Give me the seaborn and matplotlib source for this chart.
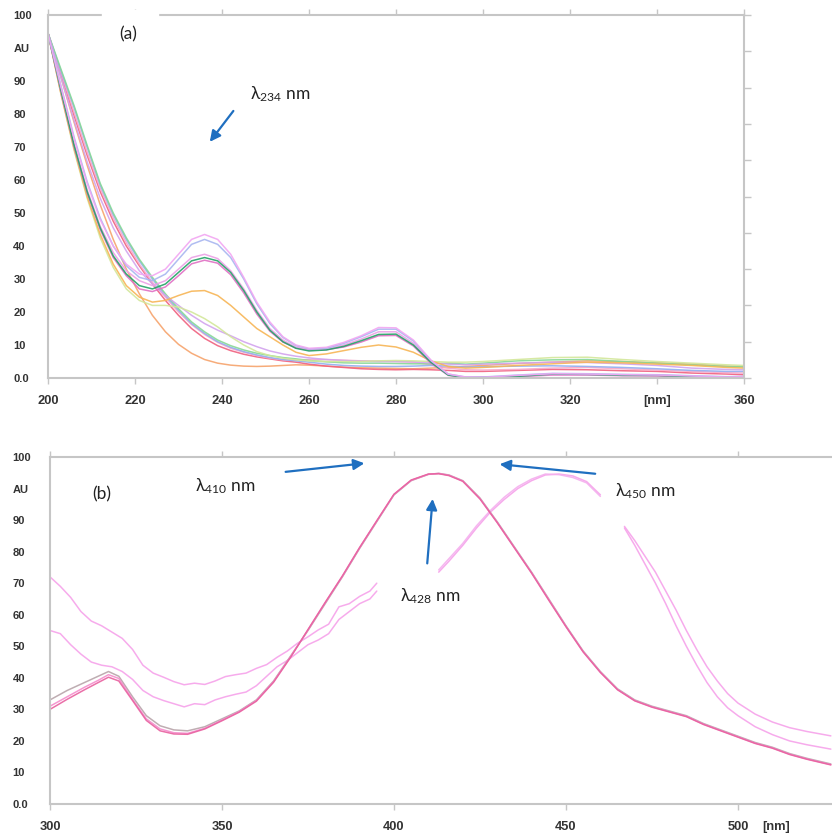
import numpy as np
import matplotlib
matplotlib.use("Agg")
import matplotlib.pyplot as plt
from matplotlib.patches import Rectangle
import seaborn as sns

# --- DATA: panel (a) ---
WL_A = [200, 203, 206, 209, 212, 215, 218, 221, 224, 227, 230, 233, 236, 239, 242, 245,
        248, 251, 254, 257, 260, 264, 268, 272, 276, 280, 284, 288, 292, 296, 300, 308,
        316, 324, 332, 340, 348, 356, 360]

# peaked spectra (band at 234 nm and 277 nm)
A_PINK_LAV = [104.5, 88, 72.5, 59, 48, 40, 34.5, 31.5, 31, 33, 37.5, 42, 43.5, 42, 37.5, 30.5,
              23, 17, 12.5, 10, 9, 9.3, 10.8, 12.8, 15.3, 15.2, 11.5, 5.5, 1.2, 0.3, 0.2, 0.8,
              1.3, 1.2, 1.0, 0.9, 0.6, 0.3, 0.4]
A_BLUE_LAV = [104.5, 88.5, 73, 59.5, 48.5, 40, 34, 30.5, 29.5, 31.5, 36, 40.5, 42, 40.5, 36.5, 30,
              22.5, 16.5, 12.3, 9.8, 8.8, 9, 10.5, 12.5, 14.8, 14.8, 11.2, 5.3, 1.2, 0.3, 0.3, 0.9,
              1.4, 1.3, 1.1, 1.0, 0.7, 0.4, 0.5]
A_LIGHT_MAG = [104.5, 87, 71, 57, 46, 38, 32.5, 29.5, 28, 29.5, 33, 36.5, 37.5, 36.2, 32.5, 27,
               20.5, 15, 11.5, 9.3, 8.5, 8.8, 10, 11.8, 14, 14, 10.5, 5, 1, 0.2, 0.2, 0.6,
               1.1, 1.0, 0.8, 0.9, 0.5, 0.2, 0.3]
A_DARK_GREEN = [104.5, 87, 70.5, 56.5, 45.5, 37, 31.5, 28, 27, 28.5, 32, 35.5, 36.5, 35.5, 32, 26.5,
                20, 14.5, 11, 9, 8.2, 8.5, 9.6, 11.3, 13.2, 13.3, 10, 4.8, 0.9, 0.1, 0.1, 0.5,
                1.2, 1.1, 0.8, 0.8, 0.4, 0.3, 0.2]
A_MAGENTA = [104.5, 86.5, 70, 56, 45, 36.5, 31, 27, 26.2, 27.6, 31, 34.6, 35.7, 34.8, 31.3, 25.8,
             19.4, 14.2, 10.9, 9.1, 8.5, 8.6, 9.4, 10.9, 12.8, 12.9, 9.7, 4.5, 0.8, 0.1, 0.2, 0.4,
             0.9, 0.9, 0.7, 0.6, 0.4, 0.2, 0.3]
A_ORANGE_PK = [104.5, 86, 69.5, 55, 43.5, 34.5, 28, 24.5, 23, 23.5, 25, 26.3, 26.5, 25, 22, 18.5,
               15, 12.5, 10, 7.8, 6.8, 7.3, 8.3, 9.3, 10, 9.4, 7.8, 5.2, 3.5, 3, 3.2, 3.8,
               4.3, 4.8, 4.6, 4.2, 3.8, 3.2, 3.0]
A_YELLOW_GRN = [104.5, 86, 69, 54.5, 42.5, 33.5, 27, 23.5, 22, 22, 21.5, 20, 18, 15.5, 12.5, 10,
                8, 6.8, 6, 5.5, 5.2, 5, 5, 5, 5.2, 5.3, 5.2, 5, 4.8, 4.8, 5, 5.6,
                6.2, 6.3, 5.6, 5, 4.5, 4, 3.8]
# smooth spectra (no band)
A_LIGHT_GRN = [104.5, 93.5, 82.5, 70.5, 59, 50, 42.5, 36, 30.5, 25.5, 21, 17, 14, 11.5, 9.8, 8.5,
               7.5, 6.8, 6.2, 5.8, 5.3, 4.9, 4.6, 4.5, 4.5, 4.4, 4.3, 4.3, 4.5, 4.2, 4.5, 5.2,
               5.5, 5.6, 5.0, 4.5, 4, 3.5, 3.4]
A_BLUE = [104.5, 93, 82, 70, 58.5, 49.5, 42, 35.5, 30, 25, 20.5, 16.5, 13.5, 11, 9.3, 8,
          7, 6.2, 5.6, 5.2, 4.8, 4.2, 3.8, 3.6, 3.5, 3.5, 3.6, 3.8, 3.6, 3.3, 3.4, 3.6,
          3.7, 3.5, 3.2, 2.8, 2.3, 2.0, 2.0]
A_RED = [104.5, 92, 79.5, 67.5, 56.5, 47.5, 40, 34, 28.5, 23.5, 19, 15, 12, 9.8, 8.3, 7.2,
         6.4, 5.8, 5.2, 4.8, 4.2, 3.6, 3.2, 2.8, 2.6, 2.5, 2.6, 2.5, 2.3, 2.0, 2.0, 2.3,
         2.6, 2.5, 2.2, 2.0, 1.5, 1.2, 1.0]
A_LAVENDER = [104.5, 91, 78, 65.5, 54.5, 45.5, 38.5, 32.5, 28.5, 25, 22, 19, 16.5, 14.5, 12.8, 11,
              9.5, 8.2, 7.3, 6.6, 6.1, 5.6, 5.3, 5.1, 5.0, 5.0, 4.9, 4.6, 4.2, 4.0, 4.2, 4.5,
              4.8, 4.7, 4.3, 3.8, 3.0, 2.6, 2.5]
A_LIGHT_PINK = [104.5, 92.5, 80.5, 68.5, 57.5, 48.5, 41, 34.5, 29, 24.5, 20, 16.2, 13.2, 10.8, 9, 7.8,
                6.8, 6.0, 5.5, 5.5, 5.6, 5.6, 5.4, 5.2, 5.1, 5.0, 4.8, 4.0, 3.0, 2.5, 2.4, 2.6,
                3.0, 3.2, 2.8, 2.4, 2.0, 1.6, 1.5]
A_ORANGE = [104.5, 91, 77.5, 64.5, 52.5, 42, 33, 25.5, 19, 14, 10.2, 7.5, 5.6, 4.5, 3.9, 3.6,
            3.5, 3.6, 3.8, 4.0, 3.9, 3.6, 3.3, 3.1, 3.0, 2.9, 2.8, 3.0, 3.2, 3.5, 3.8, 4.4,
            4.8, 5.2, 5.0, 4.6, 4.2, 3.6, 3.4]

# --- DATA: panel (b) ---
WL_MAIN = [300, 305, 310, 314, 317, 320, 324, 328, 332, 336, 340, 345, 350, 355, 360, 365,
           370, 375, 380, 385, 390, 395, 400, 405, 410, 413, 416, 420, 425, 430, 435, 440,
           445, 450, 455, 460, 465, 470, 475, 480, 485, 490, 495, 500, 505, 510, 515, 520, 527]
B_MAIN_GRAY = [33, 36, 38.5, 40.5, 42, 40.5, 34, 28, 24.8, 23.5, 23.2, 24.5, 27, 29.5, 33, 39,
               47, 55, 63.5, 72, 81, 89.5, 98, 102.5, 104.5, 104.8, 104.3, 102.5, 97, 89.5, 81.5, 73.5,
               65, 56.5, 48.5, 42, 36.5, 33, 31, 29.5, 28, 25.5, 23.5, 21.5, 19.5, 18, 16, 14.5, 12.7]
B_MAIN_PINK = [31, 34, 37, 39.2, 41, 39.8, 33.2, 27, 23.8, 22.6, 22.4, 24, 26.6, 29.3, 32.8, 38.8,
               46.8, 55.2, 63.8, 72.2, 81.2, 89.7, 98.1, 102.6, 104.5, 104.8, 104.2, 102.4, 96.8, 89.3, 81.3, 73.3,
               64.8, 56.3, 48.3, 41.8, 36.3, 32.8, 30.8, 29.3, 27.8, 25.3, 23.3, 21.3, 19.3, 17.8, 15.8, 14.3, 12.5]
B_MAIN_ROSE = [30, 33.2, 36.2, 38.5, 40.2, 39, 32.8, 26.5, 23.2, 22.2, 22.1, 23.8, 26.4, 29.1, 32.6, 38.6,
               46.6, 55.3, 63.9, 72.3, 81.3, 89.8, 98.2, 102.7, 104.6, 104.7, 104.1, 102.3, 96.7, 89.2, 81.2, 73.2,
               64.6, 56.2, 48.2, 41.7, 36.2, 32.7, 30.7, 29.2, 27.7, 25.2, 23.2, 21.2, 19.2, 17.7, 15.7, 14.2, 12.4]

WL_LOW = [300, 303, 306, 309, 312, 315, 318, 321, 324, 327, 330, 333, 336, 339, 342, 345, 348,
          351, 354, 357, 360, 363, 366, 369, 372, 375, 378, 381, 384, 387, 390, 393, 395]
B_UPPER = [72, 69, 65.5, 61, 58, 56.5, 54.5, 52.5, 49, 44, 41.5, 40.2, 38.8, 37.8, 38.3, 37.9, 39,
           40.4, 41, 41.5, 43, 44.2, 46.5, 48.5, 51, 53, 55.2, 57, 62.5, 63.5, 65.8, 67.5, 70]
B_LOWER = [55, 54, 50.5, 47.5, 45, 44, 43.5, 42, 39.5, 36, 34, 32.8, 31.8, 30.8, 31.8, 31.5, 33,
           34, 34.8, 35.5, 37.5, 40.5, 43.5, 45.5, 48, 50.5, 52, 54, 58.5, 61, 63.5, 65, 67.5]

WL_SHIFT_1 = [413, 416, 420, 424, 428, 432, 436, 440, 444, 448, 452, 456, 460]
B_SHIFT_A1 = [73.5, 77, 82, 87.5, 92.5, 96.5, 100, 102.5, 104.3, 104.6, 104, 102.2, 98]
B_SHIFT_B1 = [74.2, 77.8, 82.6, 88.2, 93, 97.2, 100.6, 103, 104.6, 104.4, 103.5, 101.8, 97.5]
WL_SHIFT_2 = [467, 470, 473, 476, 479, 482, 485, 488, 491, 494, 497, 500, 505, 510, 515, 520, 527]
B_SHIFT_A2 = [88, 83.5, 78.5, 73.5, 67.5, 61.5, 55, 49, 43.5, 39, 35, 32, 28.5, 26, 24.2, 23, 21.6]
B_SHIFT_B2 = [87.5, 82, 76, 70, 63.5, 56.5, 50, 44, 38.5, 34, 30.5, 28, 24.5, 22, 20, 18.8, 17.4]

Y_TICKS = [0, 10, 20, 30, 40, 50, 60, 70, 80, 90, 100, 110]
Y_LABELS = ['0.0', '10', '20', '30', '40', '50', '60', '70', '80', '90', 'AU', '100']
XA_TICKS = [200, 220, 240, 260, 280, 300, 320, 340, 360]
XA_LABELS = ['200', '220', '240', '260', '280', '300', '320', '[nm]', '360']
XB_TICKS = [300, 350, 400, 450, 500, 511]
XB_LABELS = ['300', '350', '400', '450', '500', '[nm]']

# --- STYLE ---
SPINE = '#c6c6c6'
TICK_TXT = '#333333'
ARROW = '#1f6fc0'
TICK_FONT = ['Liberation Sans', 'DejaVu Sans']
NOTE_FONT = ['Lato', 'DejaVu Sans']
LW = 1.1

CURVES_A = [
    (A_ORANGE, '#f6a36c'),
    (A_RED, '#f0607f'),
    (A_LIGHT_PINK, '#f7a9c9'),
    (A_BLUE, '#92aef0'),
    (A_LIGHT_GRN, '#86d896'),
    (A_LAVENDER, '#d2a3ee'),
    (A_YELLOW_GRN, '#d3e79a'),
    (A_ORANGE_PK, '#f7b555'),
    (A_MAGENTA, '#e070c4'),
    (A_LIGHT_MAG, '#eca0e6'),
    (A_DARK_GREEN, '#23a366'),
    (A_BLUE_LAV, '#a8b6f0'),
    (A_PINK_LAV, '#f2a6f2'),
]

CURVES_B = [
    (WL_LOW, B_UPPER, '#f6a2ea'),
    (WL_LOW, B_LOWER, '#f6a2ea'),
    (WL_SHIFT_1, B_SHIFT_A1, '#f6a2ea'),
    (WL_SHIFT_1, B_SHIFT_B1, '#f4b0ee'),
    (WL_SHIFT_2, B_SHIFT_A2, '#f6a2ea'),
    (WL_SHIFT_2, B_SHIFT_B2, '#f6a2ea'),
    (WL_MAIN, B_MAIN_GRAY, '#b8a4aa'),
    (WL_MAIN, B_MAIN_PINK, '#f58ccc'),
    (WL_MAIN, B_MAIN_ROSE, '#e8609f'),
]


def style_axes(ax, xticks, xlabels, ypad, xpad):
    ax.set_ylim(0, 110)
    for sp in ax.spines.values():
        sp.set_color(SPINE)
        sp.set_linewidth(1.5)
    ax.set_xticks(xticks)
    ax.set_xticklabels(xlabels, fontweight='bold', family=TICK_FONT, fontsize=9.3, color=TICK_TXT)
    ax.tick_params(axis='x', direction='out', length=4, width=1, color=SPINE,
                   top=True, bottom=True, pad=xpad)
    ax.set_yticks(Y_TICKS)
    ax.set_yticklabels(Y_LABELS, fontweight='bold', family=TICK_FONT, fontsize=8,
                       color=TICK_TXT, ha='left')
    ax.tick_params(axis='y', length=0, pad=ypad)
    ax.set_xlabel('')
    ax.set_ylabel('')


def lam(ax, x, y, sub):
    ax.text(x, y, r'λ$_{%s}$ nm' % sub, fontsize=12.5, family=NOTE_FONT,
            color='#222222', va='center', ha='left')


def arrow(ax, start, end):
    ax.annotate('', xy=end, xytext=start,
                arrowprops=dict(arrowstyle='-|>', color=ARROW, lw=1.6, mutation_scale=16))


def make_figure():
    sns.set_theme(style="white")
    plt.rcParams['font.family'] = ['Lato', 'DejaVu Sans']
    plt.rcParams['mathtext.fontset'] = 'custom'
    plt.rcParams['mathtext.rm'] = 'Lato'
    plt.rcParams['mathtext.default'] = 'rm'

    fig = plt.figure(figsize=(8.32, 8.35), dpi=100)

    # panel (a)
    ax = fig.add_axes([0.0577, 0.5473, 0.8365, 0.4347])
    for vals, col in CURVES_A:
        sns.lineplot(x=WL_A, y=vals, color=col, lw=LW, alpha=0.9,
                     estimator=None, sort=False, ax=ax)
    ax.set_xlim(200, 360)
    style_axes(ax, XA_TICKS, XA_LABELS, 25, 8)
    ax_r = ax.twinx()
    ax_r.set_ylim(0, 110)
    ax_r.set_yticks(np.arange(0, 111, 11))
    ax_r.set_yticklabels([])
    ax_r.tick_params(axis='y', length=5, width=1, color=SPINE)
    for sp in ax_r.spines.values():
        sp.set_visible(False)
    ax.add_patch(Rectangle((0.0776, 0.985), 0.0805, 0.03, transform=ax.transAxes,
                           color='white', clip_on=False, zorder=5))
    ax.text(218.4, 104.2, '(a)', fontsize=12.5, family=NOTE_FONT, color='#222222',
            ha='center', va='center')
    lam(ax, 246.4, 85.9, '234')
    arrow(ax, (243, 81.6), (236.8, 70.9))

    # panel (b)
    bx = fig.add_axes([0.0601, 0.0371, 0.9447, 0.4156])
    for xs, vals, col in CURVES_B:
        sns.lineplot(x=xs, y=vals, color=col, lw=LW, alpha=0.9,
                     estimator=None, sort=False, ax=bx)
    bx.set_xlim(300, 528.5)
    style_axes(bx, XB_TICKS, XB_LABELS, 27, 8)
    bx.xaxis.get_major_ticks()[-1].tick1line.set_visible(False)
    bx.xaxis.get_major_ticks()[-1].tick2line.set_visible(False)
    bx.text(315.1, 98.3, '(b)', fontsize=12.5, family=NOTE_FONT, color='#222222',
            ha='center', va='center')
    lam(bx, 342.2, 100.8, '410')
    lam(bx, 401.7, 65.9, '428')
    lam(bx, 464.2, 99.2, '450')
    arrow(bx, (367.7, 105.2), (392.2, 108.1))
    arrow(bx, (409.6, 75.4), (411.3, 97.6))
    arrow(bx, (459.3, 104.6), (429.9, 107.8))

    fig.savefig('out.png', dpi=100)


if __name__ == "__main__":
    make_figure()
